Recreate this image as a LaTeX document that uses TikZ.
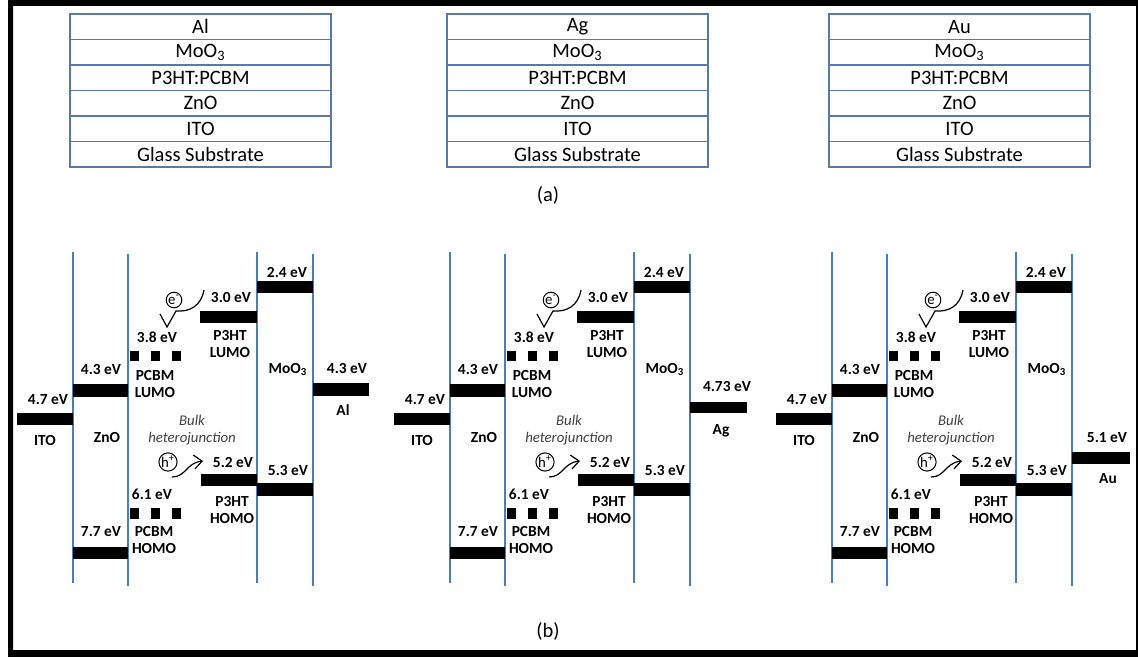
\documentclass[tikz,border=0pt]{standalone}
\usepackage{fontspec}
\setmainfont{Carlito}
\usetikzlibrary{arrows.meta}
\definecolor{boxblue}{HTML}{5A78A8}
\definecolor{lineblue}{HTML}{4A7EBB}
\definecolor{bulkgray}{HTML}{404040}
\begin{document}
\begin{tikzpicture}[x=0.5pt,y=-0.5pt,
  lvl/.style={font=\fontsize{7.7}{8.4}\selectfont\bfseries, align=center, inner sep=0pt},
  layer/.style={draw=boxblue, line width=0.75pt, minimum width=130.5pt, minimum height=12.75pt, inner sep=0pt, font=\fontsize{10.25}{12}\selectfont},
  vline/.style={draw=lineblue, line width=1pt},
  bulk/.style={font=\fontsize{7.4}{8.2}\selectfont\itshape, text=bulkgray, align=center, inner sep=0pt},
  carrier/.style={circle, draw, line width=0.5pt, inner sep=0pt, font=\fontsize{7.4}{8}\selectfont},
  flow/.style={line width=0.6pt},
  caption/.style={font=\fontsize{10.25}{12}\selectfont, inner sep=0pt}]
\useasboundingbox (0,0) rectangle (1138,657);
\fill[black, even odd rule] (8,0) rectangle (1138,657) (13,6) rectangle (1136,650);

% ---------- (a) device stacks ----------
\foreach \cx/\metal/\p in {200.5/Al/1, 577.5/Ag/2, 959.5/Au/3} {
  \node[layer] (m\p)   at (\cx,26.75)  {\metal};
  \node[layer] (mo\p)  at (\cx,52.25)  {MoO\textsubscript{3}};
  \node[layer] (bhj\p) at (\cx,77.75)  {P3HT:PCBM};
  \node[layer] (zn\p)  at (\cx,103.25) {ZnO};
  \node[layer] (it\p)  at (\cx,128.75) {ITO};
  \node[layer] (gl\p)  at (\cx,154.25) {Glass Substrate};
}
\node[caption] (capa) at (548,195) {(a)};

% ---------- (b) energy diagrams ----------
\foreach \off/\p in {0/1, 377/2, 759/3} {
\begin{scope}[shift={(\off,0)}]
  \draw[vline] (73,252) -- (73,583);
  \draw[vline] (128,254) -- (128,586);
  \draw[vline] (257,252) -- (257,583);
  \draw[vline] (313,254) -- (313,586);
  % bars
  \fill (17,413) rectangle (73,425);
  \fill (73,384) rectangle (128,397);
  \fill (73,547) rectangle (128,559);
  \foreach \sx in {130,151,172} {
    \fill (\sx,351) rectangle ++(9,10);
    \fill (\sx,508) rectangle ++(9,11);
  }
  \fill (200,311) rectangle (257,323);
  \fill (201,474) rectangle (257,486);
  \fill (257,281) rectangle (313,293);
  \fill (257,483) rectangle (313,496);
  % labels
  \node[lvl] (l47\p) at (48,400) {4.7 eV};
  \node[lvl] (ito\p) at (45,441) {ITO};
  \node[lvl] (l43\p) at (101,370) {4.3 eV};
  \node[lvl] (zno\p) at (107,437) {ZnO};
  \node[lvl] (l77\p) at (101,532) {7.7 eV};
  \node[lvl] (l38\p) at (157,337) {3.8 eV};
  \node[lvl] (pl\p)  at (155,384) {PCBM\\LUMO};
  \node[lvl] (l30\p) at (231,298) {3.0 eV};
  \node[lvl] (tl\p)  at (230,344) {P3HT\\LUMO};
  \node[lvl] (l24\p) at (287,273) {2.4 eV};
  \node[lvl] (moo\p) at (288,369) {MoO\textsubscript{3}};
  \node[bulk] (bk\p) at (192,430) {Bulk\\heterojunction};
  \node[lvl] (l52\p) at (233,463) {5.2 eV};
  \node[lvl] (l53\p) at (288,471) {5.3 eV};
  \node[lvl] (l61\p) at (152,494) {6.1 eV};
  \node[lvl] (th\p)  at (232,510) {P3HT\\HOMO};
  \node[lvl] (ph\p)  at (154,540) {PCBM\\HOMO};
  % carriers
  \node[carrier, minimum size=7.8pt] (el\p) at (174,300) {e\textsuperscript{-}};
  \coordinate (es\p) at (204,290);
  \draw[flow, line join=miter] (es\p) .. controls (201,306) and (190,312) .. (176,311) -- (167,327) -- (160,314);
  \node[carrier, minimum size=8.8pt] (ho\p) at (168,462) {h\textsuperscript{+}};
  \coordinate (hs\p) at (172,477);
  \coordinate (ht\p) at (203,461);
  \draw[flow, -{Straight Barb[length=4pt,width=7pt]}] (hs\p) .. controls (186,477) and (186,463) .. (ht\p);
\end{scope}
}
% metals
\fill (313,383) rectangle (369,396);
\node[lvl] (alv) at (347,369) {4.3 eV};
\node[lvl] (al)  at (343,410) {Al};
\fill (690,402) rectangle (747,413);
\node[lvl] (agv) at (727,387) {4.73 eV};
\node[lvl] (ag)  at (721,431) {Ag};
\fill (1072,452) rectangle (1130,464);
\node[lvl] (auv) at (1107,438) {5.1 eV};
\node[lvl] (au)  at (1108,479) {Au};

\node[caption] (capb) at (548,631) {(b)};
\end{tikzpicture}
\end{document}
